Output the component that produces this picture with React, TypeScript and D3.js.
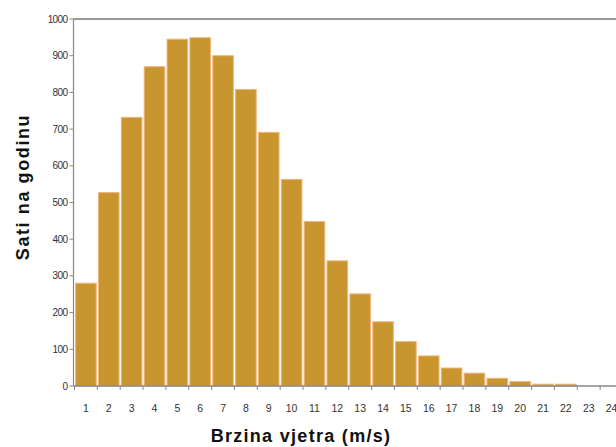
import React from "react";
import * as d3 from "d3";

const speeds = ["1","2","3","4","5","6","7","8","9","10","11","12","13","14","15","16","17","18","19","20","21","22","23","24"];
const hours = [280, 527, 732, 870, 945, 949, 900, 808, 691, 563, 448, 341, 251, 175, 121, 82, 49, 35, 21, 12, 5, 5, 0, 0];
const yTicks = [0, 100, 200, 300, 400, 500, 600, 700, 800, 900, 1000];

const W = 616, H = 447;
const left = 74.5, right = 623, top = 19, bottom = 386;

export default function App() {
  const x = d3.scaleBand().domain(speeds).range([left, right]).paddingInner(0.1).paddingOuter(0.05);
  const y = d3.scaleLinear().domain([0, 1000]).range([bottom, top]);
  const step = (right - left) / speeds.length;
  return (
    <svg width={W} height={H} style={{ position: "absolute", left: 0, top: 0, background: "#fff" }}>
      <line x1={left - 1} x2={W} y1={y(1000)} y2={y(1000)} stroke="#999" strokeWidth={2} />
      {hours.map((v, i) => v > 0 ? (
        <rect key={i} x={x(speeds[i])} y={y(v)} width={x.bandwidth()} height={bottom - y(v)}
          fill="#C8952F" stroke="#F0B47A" strokeWidth={1} />
      ) : null)}
      <line x1={left - 1} x2={left - 1} y1={top} y2={bottom} stroke="#888" strokeWidth={1.2} />
      <line x1={left - 1} x2={W} y1={bottom} y2={bottom} stroke="#888" strokeWidth={1.5} />
      {yTicks.map(t => (
        <g key={t}>
          <line x1={left - 5} x2={left - 1} y1={y(t)} y2={y(t)} stroke="#888" />
          <text x={left - 7} y={y(t)} dy="0.35em" textAnchor="end" fontFamily="Arial, Liberation Sans" fontSize={10} fill="#333" letterSpacing={-0.6}>{t}</text>
        </g>
      ))}
      {speeds.map((s, i) => (
        <g key={s}>
          <line x1={left + i * step} x2={left + i * step} y1={bottom} y2={bottom + 4} stroke="#888" />
          <text x={(x(s) as number) + x.bandwidth() / 2} y={412} textAnchor="middle" fontFamily="Arial, Liberation Sans" fontSize={10.5} fill="#333">{s}</text>
        </g>
      ))}
      <text x={301} y={442} textAnchor="middle" fontFamily="Arial, Liberation Sans" fontWeight="bold" fontSize={18} letterSpacing={1.3} fill="#111">Brzina vjetra (m/s)</text>
      <text transform={`translate(29,187) rotate(-90)`} textAnchor="middle" fontFamily="Arial, Liberation Sans" fontWeight="bold" fontSize={18} letterSpacing={1.6} fill="#111">Sati na godinu</text>
    </svg>
  );
}
